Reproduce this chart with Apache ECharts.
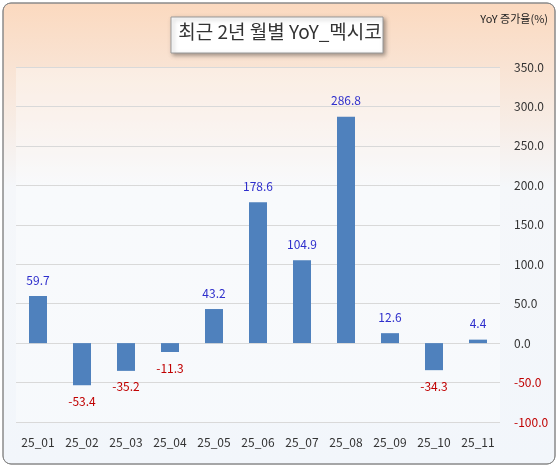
<!DOCTYPE html>
<html>
<head>
<meta charset="utf-8">
<script src="https://cdn.jsdelivr.net/npm/echarts@6/dist/echarts.min.js"></script>
<style>
  html, body { margin: 0; padding: 0; background: #fff; }
  #chart { width: 560px; height: 469px; }
</style>
</head>
<body>
<div id="chart"></div>
<script>
const categories = ['25_01', '25_02', '25_03', '25_04', '25_05', '25_06', '25_07', '25_08', '25_09', '25_10', '25_11']
const yoyValues = [59.7, -53.4, -35.2, -11.3, 43.2, 178.6, 104.9, 286.8, 12.6, -34.3, 4.4]

const chart = echarts.init(document.getElementById('chart'))

chart.setOption({
  animation: false,
  textStyle: { fontFamily: 'Noto Sans CJK KR, sans-serif' },
  graphic: [
    {
      type: 'rect',
      shape: { x: 3, y: 3, width: 552, height: 461, r: 8 },
      style: {
        fill: new echarts.graphic.LinearGradient(0, 0, 0, 1, [
          { offset: 0, color: '#fbd9bf' },
          { offset: 0.4, color: '#f5f7fa' },
          { offset: 1, color: '#f2f6fb' },
        ]),
        stroke: '#8a8a8a',
        lineWidth: 1,
      },
      z: -10,
    },
    {
      type: 'rect',
      shape: { x: 171, y: 17, width: 212, height: 36 },
      style: { fill: '#fff', stroke: '#9a9a9a', lineWidth: 1, shadowBlur: 4, shadowOffsetX: 2, shadowOffsetY: 2, shadowColor: 'rgba(0,0,0,0.35)' },
      z: 10,
    },
    {
      type: 'text',
      left: 'center',
      top: 22,
      style: { text: '최근 2년 월별 YoY_멕시코', fontSize: 19, fill: '#333', fontFamily: 'Noto Sans CJK KR' },
      z: 11,
    },
    {
      type: 'text',
      right: 12,
      top: 13,
      style: { text: 'YoY 증가율(%)', fontSize: 11, fill: '#222', fontFamily: 'Noto Sans CJK KR' },
      z: 11,
    },
  ],
  grid: { left: 16, right: 60, top: 67, bottom: 47, show: true, backgroundColor: 'rgba(255,255,255,0.35)', borderWidth: 0 },
  xAxis: {
    type: 'category',
    data: categories,
    position: 'bottom',
    axisLine: { show: false },
    axisTick: { show: false },
    axisLabel: { color: '#333', fontSize: 12, margin: 14 },
  },
  yAxis: {
    type: 'value',
    position: 'right',
    min: -100,
    max: 350,
    interval: 50,
    axisLine: { show: false },
    axisTick: { show: false },
    axisLabel: {
      fontSize: 12,
      margin: 14,
      formatter: v => v.toFixed(1),
      color: v => (Number(v) < 0 ? '#c00000' : '#333'),
    },
    splitLine: { lineStyle: { color: '#d9d9d9' } },
  },
  series: [
    {
      type: 'bar',
      data: yoyValues,
      barWidth: 18,
      itemStyle: { color: '#4f81bd' },
      label: {
        show: true,
        fontSize: 12,
        distance: 10,
        formatter: p => p.value.toFixed(1),
      },
      labelLayout: null,
    },
  ],
})

const opt = chart.getOption()
opt.series[0].data = yoyValues.map(v => ({
  value: v,
  label: { position: v < 0 ? 'bottom' : 'top', color: v < 0 ? '#c00000' : '#2e2ecc' },
}))
chart.setOption(opt)
</script>
</body>
</html>
